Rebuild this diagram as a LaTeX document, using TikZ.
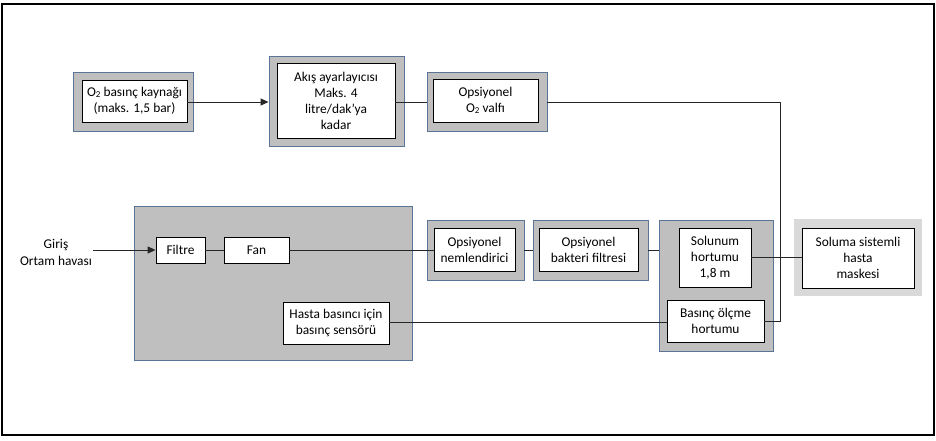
\documentclass[tikz,border=0pt]{standalone}
\usepackage{fontspec}
\setmainfont{Carlito}
\usetikzlibrary{arrows.meta,calc}
\definecolor{boxgray}{HTML}{BFBFBF}
\definecolor{lightgray2}{HTML}{D9D9D9}
\definecolor{edgeblue}{HTML}{5A7596}
\tikzset{
  outerbox/.style={draw=edgeblue,line width=0.9pt,fill=boxgray,inner sep=0pt},
  innerbox/.style={draw=black,line width=0.8pt,fill=white,inner sep=1pt,align=center,font=\fontsize{13.4}{16}\selectfont},
  conn/.style={line width=1pt,draw=black!85},
  arr/.style={conn,-{Triangle[length=8pt,width=7pt]}},
  lbl/.style={align=center,font=\fontsize{13.4}{17}\selectfont,inner sep=0pt}
}
\newcommand{\Otwo}{O\raisebox{-0.15ex}{\fontsize{9}{10}\selectfont 2}}
\begin{document}
\begin{tikzpicture}[x=1pt,y=-1pt]
\useasboundingbox (0,0) rectangle (936,440);
\draw[line width=2pt] (2,4) rectangle (934,435);

% top row
\node[outerbox,minimum width=120pt,minimum height=59pt] (o2o) at (133,101.5) {};
\node[innerbox,minimum width=105pt,minimum height=42pt] (o2i) at (134.5,101) {\Otwo\ basınç kaynağı\\(maks. 1,5 bar)};
\node[outerbox,minimum width=135pt,minimum height=90pt] (flo) at (336.5,101) {};
\node[innerbox,minimum width=118pt,minimum height=75pt] (fli) at (336,100.5) {Akış ayarlayıcısı\\Maks. 4\\litre/dak’ya\\kadar};
\node[outerbox,minimum width=120pt,minimum height=59pt] (vao) at (487,101.5) {};
\node[innerbox,minimum width=105pt,minimum height=43pt] (vai) at (485.5,100.5) {Opsiyonel\\\Otwo\ valfı};

% main unit
\node[outerbox,minimum width=278pt,minimum height=154pt] (main) at (273,283) {};
\node[innerbox,minimum width=49pt,minimum height=26pt] (filtre) at (180.5,250) {Filtre};
\node[innerbox,minimum width=65pt,minimum height=26pt] (fan) at (256.5,250) {Fan};
\node[innerbox,minimum width=106pt,minimum height=42pt] (sensor) at (336,323) {Hasta basıncı için\\basınç sensörü};

% middle row
\node[outerbox,minimum width=97pt,minimum height=60pt] (nemo) at (475.5,250) {};
\node[innerbox,minimum width=81pt,minimum height=43pt] (nemi) at (474.5,249.5) {Opsiyonel\\nemlendirici};
\node[outerbox,minimum width=115pt,minimum height=60pt] (bako) at (590.5,250) {};
\node[innerbox,minimum width=99pt,minimum height=43pt] (baki) at (588.5,249.5) {Opsiyonel\\bakteri filtresi};
\node[outerbox,minimum width=114pt,minimum height=131pt] (hoseo) at (716,285.5) {};
\node[innerbox,minimum width=72pt,minimum height=59pt] (sol) at (715,257.5) {Solunum\\hortumu\\1,8 m};
\node[innerbox,minimum width=97pt,minimum height=42pt] (bas) at (715.5,321) {Basınç ölçme\\hortumu};
\node[fill=lightgray2,inner sep=0pt,minimum width=128pt,minimum height=77pt] (masko) at (858,257.5) {};
\node[innerbox,minimum width=112pt,minimum height=60pt] (maski) at (858,258) {Soluma sistemli\\hasta\\maskesi};

% input label
\node[lbl] (girislbl) at (56,252) {Giriş\\Ortam havası};
\coordinate (inpt) at (93,250);
\coordinate (turn) at (780,102);

% connectors
\draw[arr] (o2i.east |- 0,102) -- (flo.west |- 0,102);
\draw[conn] (fli.east |- 0,102) -- (vao.west |- 0,102);
\draw[conn] (vao.east |- 0,102) -- (turn) -- (turn |- bas.east) -- (bas.east);
\draw[arr] (inpt) -- (filtre.west);
\draw[conn] (filtre.east) -- (fan.west);
\draw[conn] (fan.east) -- (nemi.west |- fan.east);
\draw[conn] (nemo.east |- 0,250) -- (bako.west |- 0,250);
\draw[conn] (bako.east |- 0,250) -- (hoseo.west |- 0,250);
\draw[conn] (sol.east) -- (maski.west |- sol.east);
\draw[conn] (sensor.east |- 0,322) -- (bas.west |- 0,322);
\end{tikzpicture}
\end{document}
